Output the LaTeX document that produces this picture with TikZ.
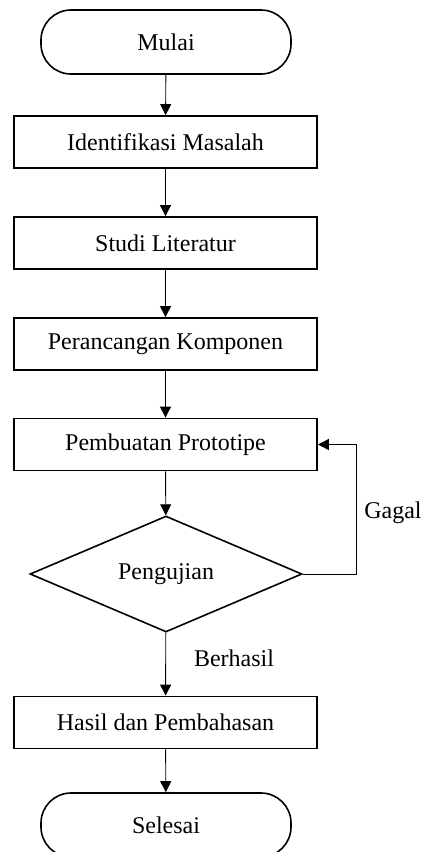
\documentclass[tikz,border=0pt]{standalone}
\usepackage{fontspec}
\setmainfont{Liberation Serif}
\usetikzlibrary{arrows.meta,shapes.geometric}
\begin{document}
\begin{tikzpicture}[x=1pt,y=-1pt,
  font=\fontsize{24}{28}\selectfont,
  box/.style={draw,line width=1.8pt,minimum width=303pt,minimum height=52pt,inner sep=0pt},
  term/.style={draw,line width=1.6pt,rounded corners=30pt,minimum width=250pt,minimum height=64pt,inner sep=0pt},
  decision/.style={draw,line width=1.6pt,diamond,aspect=2.34,minimum width=272pt,minimum height=116pt,inner sep=0pt},
  conn/.style={line width=0.9pt,-{Triangle[length=11pt,width=11pt]}},
  lbl/.style={inner sep=0pt}
]
\useasboundingbox[fill=white] (0,0) rectangle (422,852);
\node[term] (mulai) at (166,42) {Mulai};
\node[box] (ident) at (165.5,142) {Identifikasi Masalah};
\node[box] (studi) at (165.5,243) {Studi Literatur};
\node[box] (peran) at (165.5,344) {Perancangan Komponen};
\node[box] (proto) at (165.5,444.5) {Pembuatan Prototipe};
\node[decision] (uji) at (166,574) {Pengujian};
\node[box] (hasil) at (165.5,722.5) {Hasil dan Pembahasan};
\node[term] (selesai) at (166,825) {Selesai};
\coordinate (fb) at (356,574);
\node[lbl] (gagal) at (393,513) {Gagal};
\node[lbl] (berhasil) at (234,658) {Berhasil};
\draw[conn] (mulai) -- (ident);
\draw[conn] (ident) -- (studi);
\draw[conn] (studi) -- (peran);
\draw[conn] (peran) -- (proto);
\draw[conn] (proto) -- (uji);
\draw[conn] (uji) -- (hasil);
\draw[conn] (hasil) -- (selesai);
\draw[conn] (uji.east) -- (fb) |- (proto.east);
\end{tikzpicture}
\end{document}
